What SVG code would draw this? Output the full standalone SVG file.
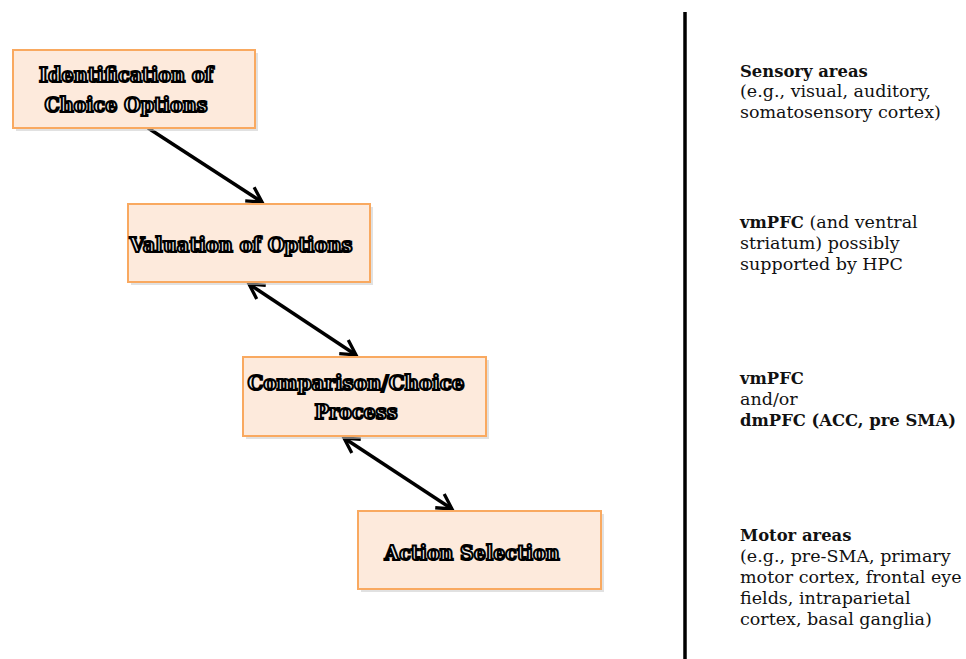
<svg xmlns="http://www.w3.org/2000/svg" width="966" height="659" viewBox="0 0 966 659">
<style>
.box{fill:#fdeadc;stroke:#f9a960;stroke-width:2}
.shadow{fill:#c8c8c8;opacity:0.55}
.lbl{font-family:"DejaVu Serif","Liberation Serif",serif;font-size:20px;font-weight:bold;fill:#f2f2f2;stroke:#000;stroke-width:2.1px}
.desc{font-family:"DejaVu Serif","Liberation Serif",serif;font-size:17.5px;fill:#111}
.b{font-weight:bold;font-size:16.4px}
.conn{stroke:#000;stroke-width:3.5;fill:none}
</style>
<defs>
<marker id="ah" viewBox="0 0 12 12" refX="10" refY="6" markerWidth="5.6" markerHeight="5.6" orient="auto-start-reverse" markerUnits="strokeWidth">
<path d="M1,1 L10,6 L1,11" fill="none" stroke="#000" stroke-width="2"/>
</marker>
</defs>
<rect width="966" height="659" fill="#fff"/>

<g id="connectors">
<line class="conn" x1="148" y1="128" x2="262" y2="202" marker-end="url(#ah)"/>
<line class="conn" x1="249" y1="284" x2="356" y2="355" marker-start="url(#ah)" marker-end="url(#ah)"/>
<line class="conn" x1="344" y1="438" x2="452" y2="509" marker-start="url(#ah)" marker-end="url(#ah)"/>
<line x1="685" y1="12" x2="685" y2="659" stroke="#000" stroke-width="3.5"/>
</g>

<g id="node-identification">
<rect class="shadow" x="16" y="53" width="242" height="78"/>
<rect class="box" x="13" y="50" width="242" height="78"/>
<text class="lbl" x="126" y="82" text-anchor="middle" textLength="174" lengthAdjust="spacingAndGlyphs">Identification of</text>
<text class="lbl" x="126" y="112" text-anchor="middle" textLength="163" lengthAdjust="spacingAndGlyphs">Choice Options</text>
</g>

<g id="node-valuation">
<rect class="shadow" x="131" y="207" width="242" height="78"/>
<rect class="box" x="128" y="204" width="242" height="78"/>
<text class="lbl" x="241" y="252" text-anchor="middle" textLength="223" lengthAdjust="spacingAndGlyphs">Valuation of Options</text>
</g>

<g id="node-comparison">
<rect class="shadow" x="246" y="360" width="243" height="79"/>
<rect class="box" x="243" y="357" width="243" height="79"/>
<text class="lbl" x="356" y="390" text-anchor="middle" textLength="217" lengthAdjust="spacingAndGlyphs">Comparison/Choice</text>
<text class="lbl" x="356" y="419" text-anchor="middle" textLength="83" lengthAdjust="spacingAndGlyphs">Process</text>
</g>

<g id="node-action">
<rect class="shadow" x="361" y="514" width="243" height="78"/>
<rect class="box" x="358" y="511" width="243" height="78"/>
<text class="lbl" x="472" y="560" text-anchor="middle" textLength="175" lengthAdjust="spacingAndGlyphs">Action Selection</text>
</g>

<g id="text-sensory">
<text class="desc" x="740" y="77"><tspan class="b">Sensory areas</tspan></text>
<text class="desc" x="740" y="97">(e.g., visual, auditory,</text>
<text class="desc" x="740" y="118">somatosensory cortex)</text>
</g>

<g id="text-valuation">
<text class="desc" x="740" y="228"><tspan class="b">vmPFC</tspan> (and ventral</text>
<text class="desc" x="740" y="249">striatum) possibly</text>
<text class="desc" x="740" y="270">supported by HPC</text>
</g>

<g id="text-comparison">
<text class="desc" x="740" y="384"><tspan class="b">vmPFC</tspan></text>
<text class="desc" x="740" y="405">and/or</text>
<text class="desc" x="740" y="426"><tspan class="b">dmPFC (ACC, pre SMA)</tspan></text>
</g>

<g id="text-motor">
<text class="desc" x="740" y="541"><tspan class="b">Motor areas</tspan></text>
<text class="desc" x="740" y="562">(e.g., pre-SMA, primary</text>
<text class="desc" x="740" y="583">motor cortex, frontal eye</text>
<text class="desc" x="740" y="604">fields, intraparietal</text>
<text class="desc" x="740" y="625">cortex, basal ganglia)</text>
</g>
</svg>
